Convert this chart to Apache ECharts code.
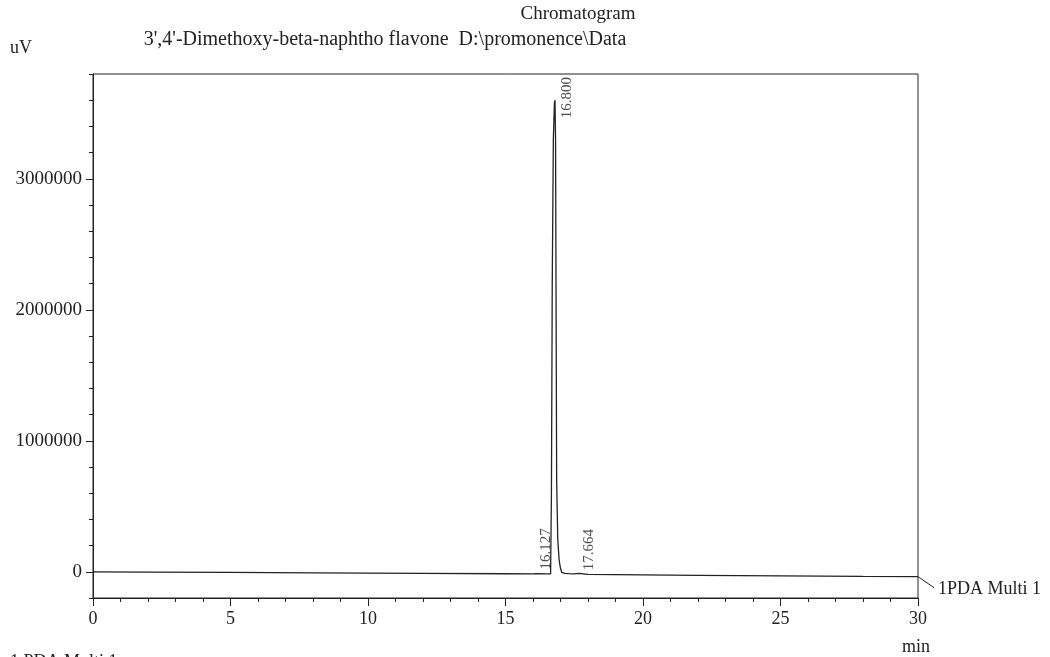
<!DOCTYPE html>
<html>
<head>
<meta charset="utf-8">
<script src="https://cdn.jsdelivr.net/npm/echarts@6/dist/echarts.min.js"></script>
<style>
html,body{margin:0;padding:0;background:#fff;}
#c{width:1050px;height:657px;}
</style>
</head>
<body>
<div id="c"></div>
<script>
// Chromatogram trace: [time (min), signal (uV)]
const traceTime = [0, 2, 5, 8, 10, 12, 15, 16.0, 16.1, 16.127, 16.16, 16.5, 16.64, 16.67, 16.7, 16.74, 16.78, 16.8, 16.82, 16.84, 16.86, 16.9, 16.95, 17.0, 17.05, 17.15, 17.3, 17.5, 17.664, 18, 20, 22, 25, 28, 30];
const traceValue = [0, -2000, -5000, -8000, -10000, -12000, -15000, -16000, -15000, -6000, -15000, -16000, -15000, 600000, 2200000, 3300000, 3580000, 3600000, 3300000, 2000000, 700000, 250000, 90000, 25000, -5000, -12000, -14000, -16000, -12000, -20000, -24000, -27000, -31000, -35000, -37000];

// Annotated peaks
const peakTimes = [16.127, 16.800, 17.664];
const peakValues = [-6000, 3600000, -12000];
const peakLabels = ["16.127", "16.800", "17.664"];

// Axis ticks
const yMajorTicks = [0, 1000000, 2000000, 3000000];
const xTicks = [0, 5, 10, 15, 20, 25, 30];

const titleLine1 = "Chromatogram";
const titleLine2 = "3',4'-Dimethoxy-beta-naphtho flavone  D:\\promonence\\Data";
const yUnit = "uV";
const xUnit = "min";
const channelName = "1PDA Multi 1";
const footerText = "1 PDA Multi 1";

const FONT = "Liberation Serif";
const INK = "#222";

const chart = echarts.init(document.getElementById('c'), null, {renderer: 'canvas'});

const traceData = traceTime.map((t, i) => [t, traceValue[i]]);
// label offsets are in the rotated frame: [up, right] on screen
const peakData = peakTimes.map((t, i) => ({
  value: [t, peakValues[i]],
  name: peakLabels[i],
  label: {offset: peakValues[i] > 1000000 ? [-18, 12] : [3, 10]}
}));

chart.setOption({
  backgroundColor: '#fff',
  animation: false,
  grid: {left: 93, right: 132, top: 74, bottom: 59, show: true, borderColor: INK, borderWidth: 1, backgroundColor: 'transparent'},
  xAxis: {
    type: 'value', min: 0, max: 30, interval: 5,
    axisLine: {show: true, onZero: false, lineStyle: {color: INK, width: 1}},
    axisTick: {show: true, length: 8, lineStyle: {color: INK}},
    minorTick: {show: true, splitNumber: 5, length: 4, lineStyle: {color: INK}},
    splitLine: {show: false},
    axisLabel: {fontFamily: FONT, fontSize: 18, color: INK, margin: 12,
      formatter: v => xTicks.indexOf(v) >= 0 ? String(v) : ''}
  },
  yAxis: [{
    type: 'value', min: -200000, max: 3800000, interval: 200000,
    axisLine: {show: true, lineStyle: {color: INK, width: 1}},
    axisTick: {show: true, length: 4, lineStyle: {color: INK}},
    splitLine: {show: false},
    axisLabel: {fontFamily: FONT, fontSize: 19, color: INK, margin: 11,
      formatter: v => yMajorTicks.indexOf(v) >= 0 ? String(v) : ''}
  }, {
    type: 'value', min: -200000, max: 3800000, position: 'left',
    axisLine: {show: false},
    axisTick: {show: true, length: 7, lineStyle: {color: INK}, customValues: yMajorTicks},
    axisLabel: {show: false},
    splitLine: {show: false}
  }],
  series: [{
    type: 'line', data: traceData, showSymbol: false, symbol: 'none',
    lineStyle: {color: INK, width: 1.3}, z: 3
  }, {
    type: 'scatter', data: peakData, symbolSize: 0,
    label: {show: true, formatter: p => p.name, rotate: 90, position: 'inside',
      align: 'left', verticalAlign: 'middle', fontFamily: FONT, fontSize: 15, color: INK},
    z: 4
  }]
});

// Texts and the channel tag connected to the trace's end
const endPt = chart.convertToPixel({gridIndex: 0}, traceData[traceData.length - 1]);
chart.setOption({
  graphic: [
    {id: 't1', type: 'text', x: 578, y: 14, style: {text: titleLine1, font: '19px "Liberation Serif"', fill: INK, align: 'center', verticalAlign: 'middle'}},
    {id: 't2', type: 'text', x: 385, y: 40, style: {text: titleLine2, font: '20px "Liberation Serif"', fill: INK, align: 'center', verticalAlign: 'middle'}},
    {id: 'yu', type: 'text', x: 10, y: 48, style: {text: yUnit, font: '18px "Liberation Serif"', fill: INK, align: 'left', verticalAlign: 'middle'}},
    {id: 'xu', type: 'text', x: 916, y: 647, style: {text: xUnit, font: '18px "Liberation Serif"', fill: INK, align: 'center', verticalAlign: 'middle'}},
    {id: 'ft', type: 'text', x: 10, y: 653, style: {text: footerText, font: '18px "Liberation Serif"', fill: INK, align: 'left', verticalAlign: 'top'}},
    {id: 'cl', type: 'line', shape: {x1: endPt[0], y1: endPt[1], x2: endPt[0] + 16, y2: endPt[1] + 11}, style: {stroke: INK, lineWidth: 1}},
    {id: 'ct', type: 'text', x: endPt[0] + 20, y: endPt[1] + 13, style: {text: channelName, font: '18px "Liberation Serif"', fill: INK, align: 'left', verticalAlign: 'middle'}}
  ]
});
</script>
</body>
</html>
